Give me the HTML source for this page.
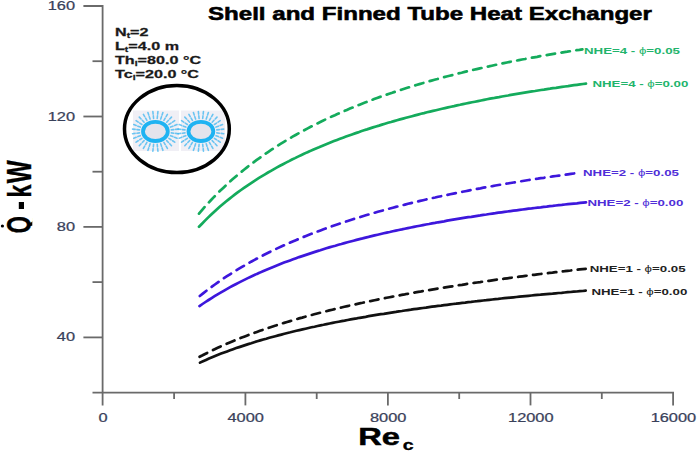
<!DOCTYPE html>
<html><head><meta charset="utf-8"><style>
html,body{margin:0;padding:0;background:#fff;}
body{width:700px;height:462px;overflow:hidden;}
svg{display:block;font-family:"Liberation Sans",sans-serif;}
</style></head><body>
<svg width="700" height="462" viewBox="0 0 700 462">
<g stroke="#6a6a6a" stroke-width="1.8" fill="none" stroke-linecap="butt">
<path d="M83.4,6 H102.6 V405.4"/>
<path d="M92.5,392.6 H673.1 V405.4"/>
<path d="M83.4,337.4 H102.6"/>
<path d="M83.4,226.9 H102.6"/>
<path d="M83.4,116.5 H102.6"/>
<path d="M92.5,282.1 H102.6"/>
<path d="M92.5,171.7 H102.6"/>
<path d="M92.5,61.2 H102.6"/>
<path d="M245.4,392.6 V405.4"/>
<path d="M387.9,392.6 V405.4"/>
<path d="M530.5,392.6 V405.4"/>
<path d="M174.1,392.6 V399"/>
<path d="M316.7,392.6 V399"/>
<path d="M459.2,392.6 V399"/>
<path d="M601.8,392.6 V399"/>
</g>
<path d="M199.0,226.8 L202.0,223.7 L205.0,220.6 L208.0,217.6 L211.0,214.7 L214.0,211.9 L217.0,209.2 L220.0,206.6 L223.0,204.0 L226.0,201.5 L229.0,199.1 L232.0,196.7 L235.0,194.4 L238.0,192.2 L241.0,190.0 L244.0,187.9 L247.0,185.8 L250.0,183.8 L253.0,181.8 L256.0,179.8 L259.0,177.9 L262.0,176.1 L265.0,174.3 L268.0,172.5 L271.0,170.8 L274.0,169.1 L277.0,167.4 L280.0,165.8 L283.0,164.2 L286.0,162.6 L289.0,161.1 L292.0,159.5 L295.0,158.1 L298.0,156.6 L301.0,155.2 L304.0,153.8 L307.0,152.4 L310.0,151.1 L313.0,149.7 L316.0,148.4 L319.0,147.2 L322.0,145.9 L325.0,144.7 L328.0,143.5 L331.0,142.3 L334.0,141.1 L337.0,139.9 L340.0,138.8 L343.0,137.7 L346.0,136.6 L349.0,135.5 L352.0,134.4 L355.0,133.4 L358.0,132.4 L361.0,131.3 L364.0,130.3 L367.0,129.4 L370.0,128.4 L373.0,127.4 L376.0,126.5 L379.0,125.6 L382.0,124.6 L385.0,123.7 L388.0,122.8 L391.0,122.0 L394.0,121.1 L397.0,120.2 L400.0,119.4 L403.0,118.6 L406.0,117.8 L409.0,117.0 L412.0,116.2 L415.0,115.4 L418.0,114.6 L421.0,113.8 L424.0,113.1 L427.0,112.3 L430.0,111.6 L433.0,110.9 L436.0,110.2 L439.0,109.5 L442.0,108.8 L445.0,108.1 L448.0,107.4 L451.0,106.7 L454.0,106.1 L457.0,105.4 L460.0,104.8 L463.0,104.1 L466.0,103.5 L469.0,102.9 L472.0,102.3 L475.0,101.7 L478.0,101.1 L481.0,100.5 L484.0,99.9 L487.0,99.3 L490.0,98.7 L493.0,98.2 L496.0,97.6 L499.0,97.1 L502.0,96.5 L505.0,96.0 L508.0,95.5 L511.0,94.9 L514.0,94.4 L517.0,93.9 L520.0,93.4 L523.0,92.9 L526.0,92.4 L529.0,91.9 L532.0,91.4 L535.0,91.0 L538.0,90.5 L541.0,90.0 L544.0,89.6 L547.0,89.1 L550.0,88.7 L553.0,88.2 L556.0,87.8 L559.0,87.3 L562.0,86.9 L565.0,86.5 L568.0,86.1 L571.0,85.6 L574.0,85.2 L577.0,84.8 L580.0,84.4 L583.0,84.0 L586.0,83.6" fill="none" stroke="#14ab5c" stroke-width="2.7" stroke-linecap="round"/>
<path d="M199.0,213.6 L202.0,210.1 L205.0,206.6 L208.1,203.3 L211.1,200.0 L214.1,196.9 L217.1,193.8 L220.1,190.8 L223.2,187.9 L226.2,185.1 L229.2,182.3 L232.2,179.6 L235.2,177.0 L238.2,174.5 L241.3,171.9 L244.3,169.5 L247.3,167.1 L250.3,164.8 L253.3,162.5 L256.4,160.2 L259.4,158.1 L262.4,155.9 L265.4,153.8 L268.4,151.8 L271.5,149.7 L274.5,147.8 L277.5,145.8 L280.5,143.9 L283.5,142.1 L286.5,140.3 L289.6,138.5 L292.6,136.7 L295.6,135.0 L298.6,133.3 L301.6,131.6 L304.7,130.0 L307.7,128.4 L310.7,126.8 L313.7,125.3 L316.7,123.8 L319.8,122.3 L322.8,120.8 L325.8,119.3 L328.8,117.9 L331.8,116.5 L334.9,115.2 L337.9,113.8 L340.9,112.5 L343.9,111.2 L346.9,109.9 L349.9,108.6 L353.0,107.4 L356.0,106.1 L359.0,104.9 L362.0,103.7 L365.0,102.6 L368.1,101.4 L371.1,100.3 L374.1,99.1 L377.1,98.0 L380.1,96.9 L383.2,95.9 L386.2,94.8 L389.2,93.8 L392.2,92.8 L395.2,91.7 L398.2,90.7 L401.3,89.8 L404.3,88.8 L407.3,87.8 L410.3,86.9 L413.3,86.0 L416.4,85.0 L419.4,84.1 L422.4,83.2 L425.4,82.4 L428.4,81.5 L431.5,80.6 L434.5,79.8 L437.5,79.0 L440.5,78.1 L443.5,77.3 L446.5,76.5 L449.6,75.7 L452.6,75.0 L455.6,74.2 L458.6,73.4 L461.6,72.7 L464.7,71.9 L467.7,71.2 L470.7,70.5 L473.7,69.8 L476.7,69.1 L479.8,68.4 L482.8,67.7 L485.8,67.0 L488.8,66.4 L491.8,65.7 L494.9,65.0 L497.9,64.4 L500.9,63.8 L503.9,63.1 L506.9,62.5 L509.9,61.9 L513.0,61.3 L516.0,60.7 L519.0,60.1 L522.0,59.5 L525.0,59.0 L528.1,58.4 L531.1,57.8 L534.1,57.3 L537.1,56.8 L540.1,56.2 L543.2,55.7 L546.2,55.2 L549.2,54.6 L552.2,54.1 L555.2,53.6 L558.2,53.1 L561.3,52.6 L564.3,52.1 L567.3,51.7 L570.3,51.2 L573.3,50.7 L576.4,50.2 L579.4,49.8 L582.4,49.3" fill="none" stroke="#14ab5c" stroke-width="2.7" stroke-linecap="round" stroke-dasharray="8.5 6.5"/>
<path d="M199.5,306.1 L202.5,304.0 L205.5,302.0 L208.6,300.0 L211.6,298.1 L214.6,296.2 L217.6,294.3 L220.6,292.6 L223.7,290.8 L226.7,289.1 L229.7,287.4 L232.7,285.8 L235.7,284.2 L238.8,282.6 L241.8,281.1 L244.8,279.6 L247.8,278.1 L250.8,276.7 L253.9,275.3 L256.9,273.9 L259.9,272.6 L262.9,271.2 L265.9,269.9 L268.9,268.7 L272.0,267.4 L275.0,266.2 L278.0,265.0 L281.0,263.8 L284.0,262.6 L287.1,261.5 L290.1,260.4 L293.1,259.3 L296.1,258.2 L299.1,257.1 L302.2,256.1 L305.2,255.1 L308.2,254.1 L311.2,253.1 L314.2,252.1 L317.3,251.1 L320.3,250.2 L323.3,249.2 L326.3,248.3 L329.3,247.4 L332.4,246.5 L335.4,245.7 L338.4,244.8 L341.4,244.0 L344.4,243.1 L347.5,242.3 L350.5,241.5 L353.5,240.7 L356.5,239.9 L359.5,239.1 L362.6,238.4 L365.6,237.6 L368.6,236.9 L371.6,236.1 L374.6,235.4 L377.7,234.7 L380.7,234.0 L383.7,233.3 L386.7,232.6 L389.7,232.0 L392.8,231.3 L395.8,230.6 L398.8,230.0 L401.8,229.4 L404.8,228.7 L407.8,228.1 L410.9,227.5 L413.9,226.9 L416.9,226.3 L419.9,225.7 L422.9,225.1 L426.0,224.5 L429.0,224.0 L432.0,223.4 L435.0,222.9 L438.0,222.3 L441.1,221.8 L444.1,221.3 L447.1,220.7 L450.1,220.2 L453.1,219.7 L456.2,219.2 L459.2,218.7 L462.2,218.2 L465.2,217.7 L468.2,217.2 L471.3,216.8 L474.3,216.3 L477.3,215.8 L480.3,215.4 L483.3,214.9 L486.4,214.5 L489.4,214.0 L492.4,213.6 L495.4,213.2 L498.4,212.7 L501.5,212.3 L504.5,211.9 L507.5,211.5 L510.5,211.1 L513.5,210.7 L516.6,210.3 L519.6,209.9 L522.6,209.5 L525.6,209.1 L528.6,208.7 L531.6,208.4 L534.7,208.0 L537.7,207.6 L540.7,207.3 L543.7,206.9 L546.7,206.6 L549.8,206.2 L552.8,205.9 L555.8,205.5 L558.8,205.2 L561.8,204.9 L564.9,204.5 L567.9,204.2 L570.9,203.9 L573.9,203.6 L576.9,203.3 L580.0,202.9 L583.0,202.6 L586.0,202.3" fill="none" stroke="#3d17dc" stroke-width="2.7" stroke-linecap="round"/>
<path d="M199.8,296.0 L202.8,293.6 L205.8,291.2 L208.9,288.9 L211.9,286.7 L214.9,284.5 L217.9,282.3 L220.9,280.2 L223.9,278.2 L227.0,276.2 L230.0,274.3 L233.0,272.4 L236.0,270.5 L239.0,268.7 L242.0,266.9 L245.1,265.1 L248.1,263.4 L251.1,261.7 L254.1,260.1 L257.1,258.5 L260.1,256.9 L263.2,255.3 L266.2,253.8 L269.2,252.3 L272.2,250.8 L275.2,249.4 L278.3,247.9 L281.3,246.5 L284.3,245.2 L287.3,243.8 L290.3,242.5 L293.3,241.2 L296.4,239.9 L299.4,238.7 L302.4,237.4 L305.4,236.2 L308.4,235.0 L311.4,233.8 L314.5,232.7 L317.5,231.5 L320.5,230.4 L323.5,229.3 L326.5,228.2 L329.6,227.1 L332.6,226.0 L335.6,225.0 L338.6,224.0 L341.6,223.0 L344.6,222.0 L347.7,221.0 L350.7,220.0 L353.7,219.0 L356.7,218.1 L359.7,217.2 L362.7,216.2 L365.8,215.3 L368.8,214.4 L371.8,213.6 L374.8,212.7 L377.8,211.8 L380.8,211.0 L383.9,210.2 L386.9,209.3 L389.9,208.5 L392.9,207.7 L395.9,206.9 L399.0,206.1 L402.0,205.4 L405.0,204.6 L408.0,203.8 L411.0,203.1 L414.0,202.4 L417.1,201.6 L420.1,200.9 L423.1,200.2 L426.1,199.5 L429.1,198.8 L432.1,198.1 L435.2,197.5 L438.2,196.8 L441.2,196.2 L444.2,195.5 L447.2,194.9 L450.2,194.2 L453.3,193.6 L456.3,193.0 L459.3,192.4 L462.3,191.8 L465.3,191.2 L468.4,190.6 L471.4,190.0 L474.4,189.4 L477.4,188.8 L480.4,188.3 L483.4,187.7 L486.5,187.2 L489.5,186.6 L492.5,186.1 L495.5,185.5 L498.5,185.0 L501.5,184.5 L504.6,184.0 L507.6,183.5 L510.6,183.0 L513.6,182.5 L516.6,182.0 L519.7,181.5 L522.7,181.0 L525.7,180.5 L528.7,180.0 L531.7,179.6 L534.7,179.1 L537.8,178.7 L540.8,178.2 L543.8,177.8 L546.8,177.3 L549.8,176.9 L552.8,176.4 L555.9,176.0 L558.9,175.6 L561.9,175.2 L564.9,174.8 L567.9,174.3 L570.9,173.9 L574.0,173.5 L577.0,173.1 L580.0,172.7" fill="none" stroke="#3d17dc" stroke-width="2.7" stroke-linecap="round" stroke-dasharray="8.5 6.5"/>
<path d="M200.0,362.6 L203.0,361.2 L206.0,359.9 L209.0,358.6 L212.1,357.3 L215.1,356.0 L218.1,354.8 L221.1,353.6 L224.1,352.5 L227.1,351.4 L230.1,350.3 L233.1,349.2 L236.2,348.1 L239.2,347.1 L242.2,346.1 L245.2,345.1 L248.2,344.1 L251.2,343.2 L254.2,342.2 L257.3,341.3 L260.3,340.4 L263.3,339.5 L266.3,338.7 L269.3,337.8 L272.3,337.0 L275.3,336.2 L278.3,335.4 L281.4,334.6 L284.4,333.8 L287.4,333.0 L290.4,332.3 L293.4,331.5 L296.4,330.8 L299.4,330.1 L302.5,329.4 L305.5,328.7 L308.5,328.0 L311.5,327.3 L314.5,326.7 L317.5,326.0 L320.5,325.4 L323.5,324.8 L326.6,324.1 L329.6,323.5 L332.6,322.9 L335.6,322.3 L338.6,321.7 L341.6,321.1 L344.6,320.6 L347.7,320.0 L350.7,319.4 L353.7,318.9 L356.7,318.4 L359.7,317.8 L362.7,317.3 L365.7,316.8 L368.7,316.2 L371.8,315.7 L374.8,315.2 L377.8,314.7 L380.8,314.2 L383.8,313.8 L386.8,313.3 L389.8,312.8 L392.9,312.3 L395.9,311.9 L398.9,311.4 L401.9,311.0 L404.9,310.5 L407.9,310.1 L410.9,309.7 L413.9,309.2 L417.0,308.8 L420.0,308.4 L423.0,308.0 L426.0,307.6 L429.0,307.1 L432.0,306.7 L435.0,306.3 L438.0,305.9 L441.1,305.6 L444.1,305.2 L447.1,304.8 L450.1,304.4 L453.1,304.0 L456.1,303.7 L459.1,303.3 L462.2,302.9 L465.2,302.6 L468.2,302.2 L471.2,301.9 L474.2,301.5 L477.2,301.2 L480.2,300.8 L483.2,300.5 L486.3,300.2 L489.3,299.8 L492.3,299.5 L495.3,299.2 L498.3,298.9 L501.3,298.5 L504.3,298.2 L507.4,297.9 L510.4,297.6 L513.4,297.3 L516.4,297.0 L519.4,296.7 L522.4,296.4 L525.4,296.1 L528.4,295.8 L531.5,295.5 L534.5,295.2 L537.5,294.9 L540.5,294.7 L543.5,294.4 L546.5,294.1 L549.5,293.8 L552.6,293.6 L555.6,293.3 L558.6,293.0 L561.6,292.8 L564.6,292.5 L567.6,292.2 L570.6,292.0 L573.6,291.7 L576.7,291.5 L579.7,291.2 L582.7,291.0 L585.7,290.7" fill="none" stroke="#111111" stroke-width="2.7" stroke-linecap="round"/>
<path d="M199.6,356.8 L202.6,355.3 L205.6,353.7 L208.6,352.2 L211.7,350.7 L214.7,349.2 L217.7,347.8 L220.7,346.4 L223.7,345.1 L226.7,343.8 L229.8,342.5 L232.8,341.2 L235.8,339.9 L238.8,338.7 L241.8,337.5 L244.8,336.4 L247.9,335.2 L250.9,334.1 L253.9,333.0 L256.9,331.9 L259.9,330.8 L262.9,329.8 L266.0,328.7 L269.0,327.7 L272.0,326.7 L275.0,325.7 L278.0,324.8 L281.0,323.8 L284.1,322.9 L287.1,322.0 L290.1,321.1 L293.1,320.2 L296.1,319.3 L299.1,318.4 L302.2,317.6 L305.2,316.7 L308.2,315.9 L311.2,315.1 L314.2,314.3 L317.2,313.5 L320.3,312.7 L323.3,312.0 L326.3,311.2 L329.3,310.4 L332.3,309.7 L335.3,309.0 L338.4,308.2 L341.4,307.5 L344.4,306.8 L347.4,306.1 L350.4,305.4 L353.4,304.8 L356.5,304.1 L359.5,303.4 L362.5,302.8 L365.5,302.1 L368.5,301.5 L371.5,300.9 L374.6,300.2 L377.6,299.6 L380.6,299.0 L383.6,298.4 L386.6,297.8 L389.6,297.2 L392.6,296.6 L395.7,296.1 L398.7,295.5 L401.7,294.9 L404.7,294.4 L407.7,293.8 L410.7,293.3 L413.8,292.7 L416.8,292.2 L419.8,291.7 L422.8,291.1 L425.8,290.6 L428.8,290.1 L431.9,289.6 L434.9,289.1 L437.9,288.6 L440.9,288.1 L443.9,287.6 L446.9,287.1 L450.0,286.6 L453.0,286.2 L456.0,285.7 L459.0,285.2 L462.0,284.8 L465.0,284.3 L468.1,283.8 L471.1,283.4 L474.1,282.9 L477.1,282.5 L480.1,282.1 L483.1,281.6 L486.2,281.2 L489.2,280.8 L492.2,280.3 L495.2,279.9 L498.2,279.5 L501.2,279.1 L504.3,278.7 L507.3,278.3 L510.3,277.9 L513.3,277.5 L516.3,277.1 L519.3,276.7 L522.4,276.3 L525.4,275.9 L528.4,275.5 L531.4,275.1 L534.4,274.8 L537.4,274.4 L540.5,274.0 L543.5,273.7 L546.5,273.3 L549.5,272.9 L552.5,272.6 L555.5,272.2 L558.6,271.9 L561.6,271.5 L564.6,271.2 L567.6,270.8 L570.6,270.5 L573.6,270.1 L576.7,269.8 L579.7,269.4 L582.7,269.1 L585.7,268.8" fill="none" stroke="#111111" stroke-width="2.7" stroke-linecap="round" stroke-dasharray="8.5 6.5"/>
<text transform="translate(75.0,341.4) scale(1.260,1)" text-anchor="end" font-size="13" font-weight="normal" fill="#39415a" stroke="#39415a" stroke-width="0.25">40</text>
<text transform="translate(75.0,230.9) scale(1.260,1)" text-anchor="end" font-size="13" font-weight="normal" fill="#39415a" stroke="#39415a" stroke-width="0.25">80</text>
<text transform="translate(75.0,120.5) scale(1.260,1)" text-anchor="end" font-size="13" font-weight="normal" fill="#39415a" stroke="#39415a" stroke-width="0.25">120</text>
<text transform="translate(75.0,10.0) scale(1.260,1)" text-anchor="end" font-size="13" font-weight="normal" fill="#39415a" stroke="#39415a" stroke-width="0.25">160</text>
<text transform="translate(103.1,421.8) scale(1.260,1)" text-anchor="middle" font-size="13" font-weight="normal" fill="#39415a" stroke="#39415a" stroke-width="0.25">0</text>
<text transform="translate(245.7,421.8) scale(1.260,1)" text-anchor="middle" font-size="13" font-weight="normal" fill="#39415a" stroke="#39415a" stroke-width="0.25">4000</text>
<text transform="translate(388.2,421.8) scale(1.260,1)" text-anchor="middle" font-size="13" font-weight="normal" fill="#39415a" stroke="#39415a" stroke-width="0.25">8000</text>
<text transform="translate(530.8,421.8) scale(1.260,1)" text-anchor="middle" font-size="13" font-weight="normal" fill="#39415a" stroke="#39415a" stroke-width="0.25">12000</text>
<text transform="translate(673.4,421.8) scale(1.260,1)" text-anchor="middle" font-size="13" font-weight="normal" fill="#39415a" stroke="#39415a" stroke-width="0.25">16000</text>
<text transform="translate(208.0,20.2) scale(1.303,1)" text-anchor="start" font-size="18.5" font-weight="bold" fill="#000" stroke="#000" stroke-width="0.55">Shell and Finned Tube Heat Exchanger</text>
<text transform="translate(358.3,444.5) scale(1.360,1)" text-anchor="start" font-size="24" font-weight="bold" fill="#000" stroke="#000" stroke-width="0.5">Re</text>
<text transform="translate(402.8,450.0) scale(1.300,1)" text-anchor="start" font-size="15" font-weight="bold" fill="#000" stroke="#000" stroke-width="0.3">c</text>
<clipPath id="qc"><rect x="0" y="200" width="32.3" height="40"/></clipPath>
<g clip-path="url(#qc)"><g transform="translate(30.2,233.3) rotate(-90) scale(1,1.5)"><text font-size="22" fill="#000" stroke="#000" stroke-width="0.25" font-weight="bold">Q</text></g></g>
<g transform="translate(30.7,197.4) rotate(-90) scale(1,1.45)"><text font-size="23.2" fill="#000" stroke="#000" stroke-width="0.25" font-weight="bold">k</text></g>
<g transform="translate(30.7,183.2) rotate(-90) scale(1,1.47)"><text font-size="24.3" fill="#000" stroke="#000" stroke-width="0.25" font-weight="bold">W</text></g>
<rect x="18.8" y="202" width="5.2" height="7" fill="#000"/>
<circle cx="2.4" cy="226" r="1.6" fill="#000"/>
<text transform="translate(115,35.6) scale(1.47,1)" font-size="11" font-weight="bold" fill="#1a1a1a" stroke="#1a1a1a" stroke-width="0.25">N<tspan font-size="7" dy="2">t</tspan><tspan dy="-2">=2</tspan></text>
<text transform="translate(115,49.6) scale(1.47,1)" font-size="11" font-weight="bold" fill="#1a1a1a" stroke="#1a1a1a" stroke-width="0.25">L<tspan font-size="7" dy="2">t</tspan><tspan dy="-2">=4.0 m</tspan></text>
<text transform="translate(115,63.5) scale(1.47,1)" font-size="11" font-weight="bold" fill="#1a1a1a" stroke="#1a1a1a" stroke-width="0.25">Th<tspan font-size="7" dy="2">i</tspan><tspan dy="-2">=80.0 °C</tspan></text>
<text transform="translate(115,77.8) scale(1.47,1)" font-size="11" font-weight="bold" fill="#1a1a1a" stroke="#1a1a1a" stroke-width="0.25">Tc<tspan font-size="7" dy="2">i</tspan><tspan dy="-2">=20.0 °C</tspan></text>
<text transform="translate(584.0,53.5) scale(1.475,1)" text-anchor="start" font-size="9" font-weight="bold" fill="#22b46c">NHE=4 - <tspan font-weight="normal">ϕ</tspan>=0.05</text>
<text transform="translate(592.4,86.5) scale(1.475,1)" text-anchor="start" font-size="9" font-weight="bold" fill="#22b46c">NHE=4 - <tspan font-weight="normal">ϕ</tspan>=0.00</text>
<text transform="translate(583.0,176.0) scale(1.475,1)" text-anchor="start" font-size="9" font-weight="bold" fill="#4f2ed8">NHE=2 - <tspan font-weight="normal">ϕ</tspan>=0.05</text>
<text transform="translate(587.4,206.0) scale(1.475,1)" text-anchor="start" font-size="9" font-weight="bold" fill="#4f2ed8">NHE=2 - <tspan font-weight="normal">ϕ</tspan>=0.00</text>
<text transform="translate(589.7,272.0) scale(1.475,1)" text-anchor="start" font-size="9" font-weight="bold" fill="#222">NHE=1 - <tspan font-weight="normal">ϕ</tspan>=0.05</text>
<text transform="translate(591.4,295.0) scale(1.475,1)" text-anchor="start" font-size="9" font-weight="bold" fill="#222">NHE=1 - <tspan font-weight="normal">ϕ</tspan>=0.00</text>
<g>
<rect x="133" y="110.5" width="46" height="40.5" fill="#f0eff5"/>
<rect x="181" y="110.5" width="44" height="40.5" fill="#f0eff5"/>
<path d="M171.3,132.9 L178.3,133.7 M170.5,135.7 L177.1,138.2 M168.9,138.3 L174.9,142.3 M166.7,140.6 L171.7,145.9 M163.9,142.4 L167.6,148.8 M160.7,143.7 L163.0,150.7 M157.2,144.3 L158.0,151.8 M153.6,144.3 L152.8,151.8 M150.1,143.7 L147.8,150.7 M146.9,142.4 L143.2,148.8 M144.1,140.6 L139.1,145.9 M141.9,138.3 L135.9,142.3 M140.3,135.7 L133.7,138.2 M139.5,132.9 L132.5,133.7 M139.5,129.9 L132.5,129.1 M140.3,127.1 L133.7,124.6 M141.9,124.5 L135.9,120.5 M144.1,122.2 L139.1,116.9 M146.9,120.4 L143.2,114.0 M150.1,119.1 L147.8,112.1 M153.6,118.5 L152.8,111.0 M157.2,118.5 L158.0,111.0 M160.7,119.1 L163.0,112.1 M163.9,120.4 L167.6,114.0 M166.7,122.2 L171.7,116.9 M168.9,124.5 L174.9,120.5 M170.5,127.1 L177.1,124.6 M171.3,129.9 L178.3,129.1" stroke="#3db6f0" stroke-opacity="0.75" stroke-width="1.6" stroke-dasharray="2.6 1.8" stroke-linecap="round"/>
<ellipse cx="155.4" cy="131.4" rx="12.4" ry="9.6" fill="#e4e4ec" stroke="#1fb3f2" stroke-width="3.8"/>
<path d="M216.8,132.9 L223.8,133.7 M216.0,135.7 L222.6,138.2 M214.4,138.3 L220.4,142.3 M212.2,140.6 L217.2,145.9 M209.4,142.4 L213.1,148.8 M206.2,143.7 L208.5,150.7 M202.7,144.3 L203.5,151.8 M199.1,144.3 L198.3,151.8 M195.6,143.7 L193.3,150.7 M192.4,142.4 L188.7,148.8 M189.6,140.6 L184.6,145.9 M187.4,138.3 L181.4,142.3 M185.8,135.7 L179.2,138.2 M185.0,132.9 L178.0,133.7 M185.0,129.9 L178.0,129.1 M185.8,127.1 L179.2,124.6 M187.4,124.5 L181.4,120.5 M189.6,122.2 L184.6,116.9 M192.4,120.4 L188.7,114.0 M195.6,119.1 L193.3,112.1 M199.1,118.5 L198.3,111.0 M202.7,118.5 L203.5,111.0 M206.2,119.1 L208.5,112.1 M209.4,120.4 L213.1,114.0 M212.2,122.2 L217.2,116.9 M214.4,124.5 L220.4,120.5 M216.0,127.1 L222.6,124.6 M216.8,129.9 L223.8,129.1" stroke="#3db6f0" stroke-opacity="0.75" stroke-width="1.6" stroke-dasharray="2.6 1.8" stroke-linecap="round"/>
<ellipse cx="200.9" cy="131.4" rx="12.4" ry="9.6" fill="#e4e4ec" stroke="#1fb3f2" stroke-width="3.8"/>
<ellipse cx="176.9" cy="129.05" rx="52.4" ry="43.55" fill="none" stroke="#000" stroke-width="3.5"/>
</g>
</svg>
</body></html>
